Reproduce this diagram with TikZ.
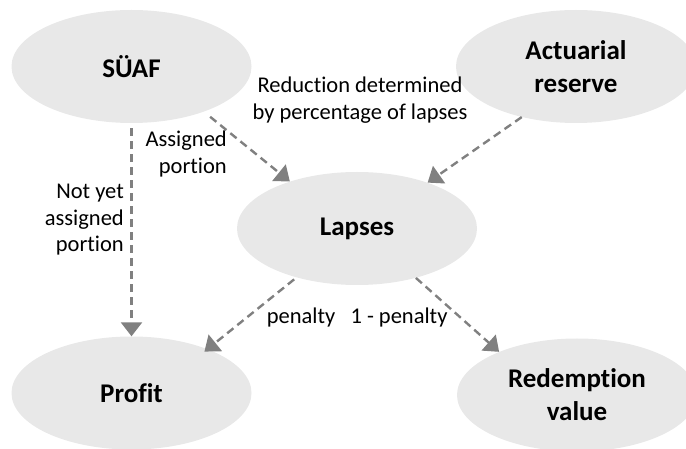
\documentclass[tikz,border=0pt]{standalone}
\usepackage{fontspec}
\setmainfont[Ligatures=NoCommon]{Carlito}
\usetikzlibrary{shapes.geometric,arrows.meta}
\definecolor{ellfill}{HTML}{E8E8E8}
\definecolor{arrgray}{HTML}{808080}
\tikzset{
  blob/.style={ellipse, fill=ellfill, draw=none, minimum width=240pt, minimum height=113pt, inner sep=0pt,
    align=center, font=\fontsize{27}{33}\selectfont\bfseries},
  lbl/.style={font=\fontsize{22.5}{26.5}\selectfont, inner sep=0pt},
  conn/.style={draw=arrgray, line width=2.4pt, dash pattern=on 8pt off 5pt,
    -{Triangle[width=21pt,length=14pt]}, arrgray}
}
\begin{document}
\begin{tikzpicture}[x=1pt,y=-1pt]
\clip (0,0) rectangle (686,449);
\node[blob] (suaf) at (131.5,66.5) {SÜAF};
\node[blob] (act) at (576,66.5) {Actuarial\\reserve};
\node[blob] (lapses) at (357,228.5) {Lapses};
\node[blob] (profit) at (131.5,393) {Profit};
\node[blob] (red) at (577,395) {Redemption\\value};

\node[lbl, align=center] (reduc) at (360,100) {Reduction determined\\by percentage of lapses};
\node[lbl, align=right, anchor=east] (assig) at (227,154) {Assigned\\portion};
\node[lbl, align=right, anchor=east] (notyet) at (124,220) {Not yet\\assigned\\portion};
\node[lbl] (pen) at (301,318) {penalty};
\node[lbl] (onepen) at (399,318) {1 - penalty};

\draw[conn, shorten <=8pt] (suaf.-32.2) -- (lapses.145.3);
\draw[conn] (act.223) -- (lapses.33.2);
\draw[conn, shorten <=5pt] (suaf.south) -- (profit.north);
\draw[conn, shorten <=3pt, shorten >=-4pt] (lapses.219.7) -- (profit.30.9);
\draw[conn] (lapses.-40.9) -- (red.151.4);
\end{tikzpicture}
\end{document}
